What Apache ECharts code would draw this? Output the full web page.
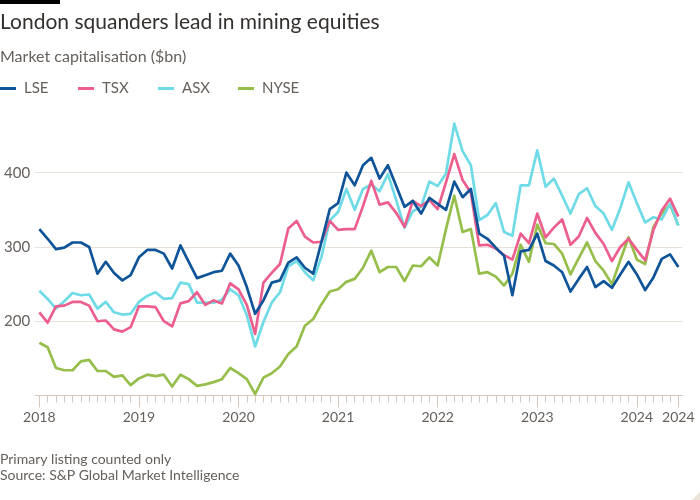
<!DOCTYPE html>
<html>
<head>
<meta charset="utf-8">
<script src="https://cdn.jsdelivr.net/npm/echarts@6/dist/echarts.min.js"></script>
<style>
html,body{margin:0;padding:0;background:#fff;}
#chart{width:700px;height:500px;}
</style>
</head>
<body>
<div id="chart"></div>
<script>
// Monthly, Jan 2018 – Jun 2024
const startYear = 2018;
const monthCount = 78;
const months = [];
for (let i = 0; i < monthCount; i++) {
  const y = startYear + Math.floor(i / 12);
  const m = (i % 12) + 1;
  months.push(y + '-' + (m < 10 ? '0' + m : m));
}

const lse = [324,311,297,299,306,306,300,264,280,265,255,262,286,296,296,291,271,302,280,258,262,266,268,291,
  275,246,210,228,252,255,279,286,272,264,307,351,359,400,383,410,420,392,410,382,354,362,345,366,358,350,388,367,
  378,318,311,299,288,235,294,296,318,281,275,266,240,257,273,246,254,245,263,280,263,242,259,284,290,273];
const tsx = [212,198,220,221,226,226,221,200,201,189,186,192,220,220,219,200,193,224,227,239,222,228,224,251,
  243,222,183,252,265,277,325,335,314,306,307,335,323,324,324,355,389,357,360,346,327,362,355,363,351,387,425,390,
  373,302,303,298,289,283,318,305,345,313,326,337,303,314,339,319,304,281,300,311,296,282,323,349,365,341];
const asx = [241,230,217,227,238,235,236,217,226,212,209,210,226,234,239,230,231,252,250,225,225,225,229,243,
  235,208,166,199,225,239,274,281,266,255,287,336,347,378,350,378,384,375,398,363,326,348,354,388,382,399,466,429,
  410,336,343,359,320,315,383,383,430,381,392,369,345,371,379,355,345,323,352,387,359,333,340,337,358,329];
const nyse = [171,165,137,134,134,146,148,133,133,125,127,114,123,128,126,128,112,128,122,113,115,118,122,137,
  130,122,102,124,130,139,156,166,194,203,223,240,243,253,257,272,295,266,273,273,254,275,274,286,275,324,369,320,
  324,264,266,260,248,264,303,280,330,305,304,291,263,285,306,281,268,250,282,313,283,277,327,345,357,329];

const seriesNames = ['LSE', 'TSX', 'ASX', 'NYSE'];
const seriesData = [lse, tsx, asx, nyse];
const seriesColors = ['#0f5499', '#eb5e8d', '#6fdbe6', '#96be4b'];

const tickIndex = [0, 12, 24, 36, 48, 60, 72, 77];
const tickText = ['2018', '2019', '2020', '2021', '2022', '2023', '2024', '2024'];
const yTicks = [200, 300, 400];

const FONT = 'Lato';
const GREY = '#66605c';
const GRID_COL = '#e8e1da';
const AXIS_COL = '#d3c9bf';

const chart = echarts.init(document.getElementById('chart'), null, {renderer: 'canvas'});

const isMajor = (idx) => tickIndex.indexOf(idx) >= 0;

const legendLefts = [0, 78, 158, 238];
const legends = seriesNames.map((n, k) => ({
  data: [n],
  left: legendLefts[k],
  top: 81,
  padding: 0,
  icon: 'rect',
  itemWidth: 16,
  itemHeight: 3,
  itemGap: 0,
  selectedMode: false,
  textStyle: {color: GREY, fontFamily: FONT, fontSize: 15, padding: [0, 0, 0, 3]}
}));

// draw order: NYSE bottom, LSE top
const order = [3, 2, 1, 0];
const series = order.map(k => ({
  name: seriesNames[k],
  type: 'line',
  data: seriesData[k],
  xAxisIndex: 0,
  yAxisIndex: 0,
  symbol: 'none',
  smooth: false,
  lineStyle: {color: seriesColors[k], width: 2.7, join: 'round'},
  itemStyle: {color: seriesColors[k]},
  emphasis: {disabled: true},
  animation: false
}));

const option = {
  animation: false,
  backgroundColor: '#ffffff',
  title: [
    {text: 'London squanders lead in mining equities', left: 0, top: 12, padding: 0,
     textStyle: {color: '#33302e', fontFamily: FONT, fontSize: 21, fontWeight: 'normal'}},
    {text: 'Market capitalisation ($bn)', left: 0, top: 49, padding: 0,
     textStyle: {color: GREY, fontFamily: FONT, fontSize: 16, fontWeight: 'normal'}},
    {text: 'Primary listing counted only', left: 0, top: 452, padding: 0,
     textStyle: {color: GREY, fontFamily: FONT, fontSize: 14, fontWeight: 'normal'}},
    {text: 'Source: S&P Global Market Intelligence', left: 0, top: 468, padding: 0,
     textStyle: {color: GREY, fontFamily: FONT, fontSize: 14, fontWeight: 'normal'}}
  ],
  legend: legends,
  grid: {left: 35.2, right: 17.5, top: 98.4, bottom: 104.5, containLabel: false},
  xAxis: [
    {
      type: 'category', data: months, boundaryGap: true, position: 'bottom',
      axisLine: {show: true, lineStyle: {color: AXIS_COL, width: 1}},
      axisTick: {show: true, alignWithLabel: true, interval: 0, length: 7, lineStyle: {color: AXIS_COL}},
      axisLabel: {show: false},
      splitLine: {show: false}
    },
    {
      type: 'category', data: months, boundaryGap: true, position: 'bottom',
      axisLine: {show: false},
      axisTick: {show: true, alignWithLabel: true, interval: (idx) => isMajor(idx), length: 12, lineStyle: {color: AXIS_COL}},
      axisLabel: {
        show: true, interval: (idx) => isMajor(idx), margin: 15,
        color: GREY, fontFamily: FONT, fontSize: 14,
        formatter: (v, idx) => { const p = tickIndex.indexOf(idx); return p >= 0 ? tickText[p] : ''; }
      },
      splitLine: {show: false}
    }
  ],
  yAxis: {
    type: 'value', min: 100, max: 500, interval: 100, position: 'left',
    axisLine: {show: false}, axisTick: {show: false},
    axisLabel: {
      color: GREY, fontFamily: FONT, fontSize: 15, margin: 5,
      formatter: (v) => yTicks.indexOf(v) >= 0 ? String(v) : ''
    },
    splitLine: {show: true, lineStyle: {color: ['rgba(0,0,0,0)', GRID_COL, GRID_COL, GRID_COL, 'rgba(0,0,0,0)'], width: 1}}
  },
  graphic: [
    {type: 'rect', left: 0, top: 0, shape: {width: 60, height: 4}, style: {fill: '#000000'}},
    {type: 'polygon', shape: {points: [[700, 492], [700, 500], [692, 500]]}, style: {fill: '#ece3d9'}}
  ],
  series: series
};

chart.setOption(option);
</script>
</body>
</html>
